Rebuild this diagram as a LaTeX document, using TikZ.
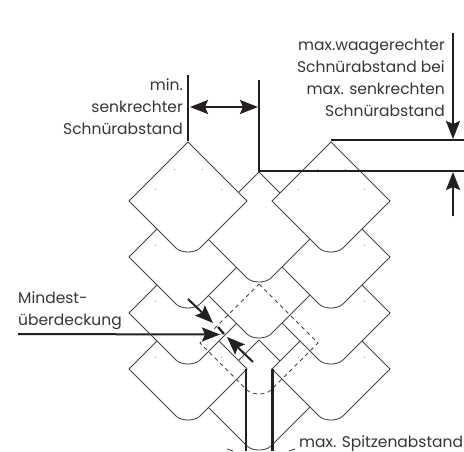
\documentclass[tikz,border=0pt]{standalone}
\usepackage{fontspec}
\setmainfont{Poppins}
\usetikzlibrary{arrows.meta}
\definecolor{ink}{HTML}{231F20}
\definecolor{thin}{HTML}{444444}
\tikzset{
  x=1pt,y=-1pt,
  tilepath/.style={line width=0.85pt,draw=thin,line join=miter},
  thickline/.style={line width=2.2pt,draw=ink},
  arrowline/.style={line width=2pt,draw=ink,-{Stealth[length=18pt,width=14pt,inset=3pt]}},
  dblarrow/.style={line width=2pt,draw=ink,{Stealth[length=18pt,width=14pt,inset=3pt]}-{Stealth[length=18pt,width=14pt,inset=3pt]}},
  lbl/.style={inner sep=0pt,text=ink!90,font=\fontsize{15.5}{22}\selectfont},
}
\newcommand{\tileoutline}[2]{%
  (#1,#2) -- (#1+59,#2+59) -- (#1+12,#2+106) .. controls (#1+9,#2+109) and (#1+4,#2+110) .. (#1,#2+110)
  .. controls (#1-4,#2+110) and (#1-9,#2+109) .. (#1-12,#2+106) -- (#1-59,#2+59) -- cycle}
\newcommand{\tile}[2]{%
  \fill[white] \tileoutline{#1}{#2};
  \draw[tilepath] \tileoutline{#1}{#2};
  \foreach \dx/\dy in {-14/27,14/27,-33/47,33/47}
    \fill[thin!60] (#1+\dx-0.5,#2+\dy-0.5) rectangle ++(1,1);
}
\begin{document}
\begin{tikzpicture}
\useasboundingbox (0,0) rectangle (464,451);
\fill[white] (0,0) rectangle (464,451);
% stray bottom strokes
\draw[tilepath] (227,449) -- (233,451);
\draw[tilepath] (289,451) -- (295,449);
% tiles, lowest first
\tile{259}{340}
\tile{188}{310}\tile{331}{310}
\tile{188}{254}\tile{331}{254}
\tile{259}{228}
\tile{188}{198}\tile{331}{198}
\tile{259}{172}
\tile{188}{142}\tile{331}{142}
% dashed tile
\draw[tilepath,dash pattern=on 4pt off 3.5pt] \tileoutline{259}{284};
% named points
\coordinate (a1) at (188,75); \coordinate (a2) at (188,141);
\coordinate (b1) at (259,80); \coordinate (b2) at (259,171);
\coordinate (b3) at (464,171);
\coordinate (c1) at (331,140); \coordinate (c2) at (464,140);
\coordinate (d1) at (190,107); \coordinate (d2) at (258,107);
\coordinate (e1) at (453,33); \coordinate (e2) at (453,139);
\coordinate (f1) at (453,216); \coordinate (f2) at (453,172);
\coordinate (g1) at (18,334); \coordinate (g2) at (220,334.5);
\coordinate (h1) at (188,299); \coordinate (h2) at (213,323);
\coordinate (i1) at (253,362); \coordinate (i2) at (227,337);
\coordinate (j1) at (218,327); \coordinate (j2) at (224,334);
\coordinate (k1) at (246,369); \coordinate (k2) at (246,451);
\coordinate (l1) at (272.5,369); \coordinate (l2) at (272.5,451);
\draw[thickline] (a1) -- (a2);
\draw[thickline,line join=miter] (b1) -- (b2) -- (b3);
\draw[thickline] (c1) -- (c2);
\draw[dblarrow] (d1) -- (d2);
\draw[arrowline] (e1) -- (e2);
\draw[arrowline] (f1) -- (f2);
\draw[arrowline] (g1) -- (g2);
\draw[arrowline] (h1) -- (h2);
\draw[arrowline] (i1) -- (i2);
\draw[thickline] (j1) -- (j2);
\draw[thickline] (k1) -- (k2);
\draw[thickline] (l1) -- (l2);
% labels
\node[lbl,align=right,anchor=north east] (t1) at (183,78) {min.\\senkrechter\\Schnürabstand};
\node[lbl,align=right,anchor=north east] (t2) at (445,39) {max.waagerechter\\Schnürabstand bei\\max. senkrechten\\Schnürabstand};
\node[lbl,align=left,anchor=north west] (t3) at (18,291) {Mindest-\\überdeckung};
\node[lbl,anchor=base west,fill=white] (t4) at (299,447) {max. Spitzenabstand};
\end{tikzpicture}
\end{document}
